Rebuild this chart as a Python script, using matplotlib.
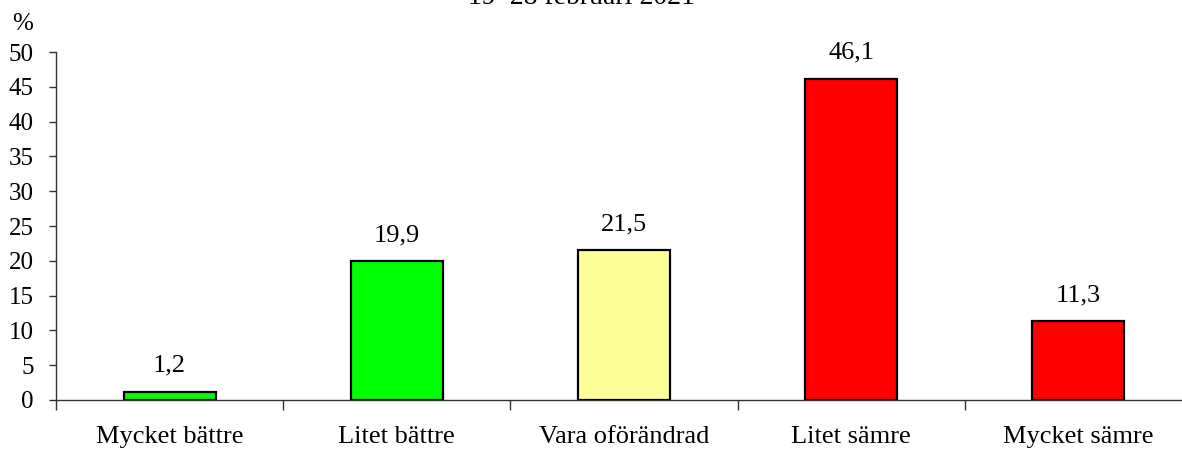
import matplotlib
matplotlib.use('Agg')
import matplotlib.pyplot as plt
import numpy as np

# Data
kategorier = ['Mycket bättre', 'Litet bättre', 'Vara oförändrad', 'Litet sämre', 'Mycket sämre']
varden = [1.2, 19.9, 21.5, 46.1, 11.3]
farger = ['#00FF00', '#00FF00', '#FFFF99', '#FF0000', '#FF0000']
titel = '19–28 februari 2021'

plt.rcParams['font.family'] = ['Liberation Serif', 'DejaVu Serif']

W, H = 1182, 450
fig = plt.figure(figsize=(W / 100, H / 100), dpi=100)
# axes pixel box: left 56, right 1192 (beyond edge), bottom 400, top 52
ax = fig.add_axes([56 / W, (H - 400) / H, 1136 / W, 348 / H])

x = np.arange(len(kategorier))
ax.bar(x, varden, width=0.405, color=farger, edgecolor='black', linewidth=1.6, zorder=3)

for xi, v in zip(x, varden):
    ax.annotate(f'{v:.1f}'.replace('.', ','), (xi, v), xytext=(0, 11),
                textcoords='offset points', ha='center', va='bottom', fontsize=19)

ax.set_xlim(-0.5, len(kategorier) - 0.5)
ax.set_ylim(0, 50)
ax.set_yticks(range(0, 51, 5))
ax.tick_params(axis='y', labelsize=18, length=5, width=1, direction='out', color='#333', pad=11)

ax.set_xticks(np.arange(-0.5, len(kategorier), 1.0))
ax.set_xticklabels([])
ax.set_xticks(x, minor=True)
ax.set_xticklabels(kategorier, minor=True, fontsize=19)
ax.tick_params(axis='x', which='major', length=7, width=1, direction='out', color='#333')
ax.tick_params(axis='x', which='minor', length=0, pad=19)

for s in ['top', 'right']:
    ax.spines[s].set_visible(False)
for s in ['left', 'bottom']:
    ax.spines[s].set_color('#333')
    ax.spines[s].set_linewidth(1)

fig.text(12 / W, 1 - 24 / H, '%', ha='left', va='center', fontsize=18)
fig.text(581 / W, 1 - 4 / H, titel, ha='center', va='baseline', fontsize=20)

fig.savefig('out.png', dpi=100)
